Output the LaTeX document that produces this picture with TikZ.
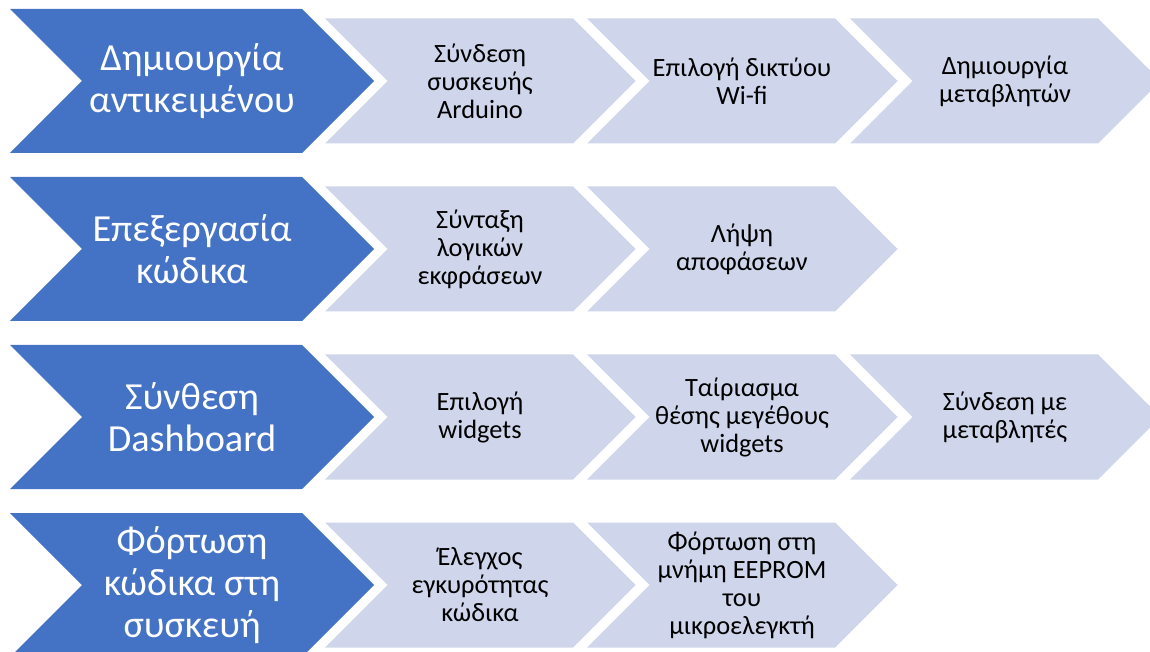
\documentclass[tikz,border=0pt]{standalone}
\usepackage{fontspec}
\setmainfont{Carlito}

\definecolor{chevblue}{RGB}{68,114,196}
\definecolor{chevlight}{RGB}{207,213,234}

\tikzset{
    bluechev/.style = {fill=chevblue},
    lightchev/.style = {fill=chevlight},
    bluelabel/.style = {text=white, align=center, inner sep=0pt,
        font=\fontsize{28.7}{31.5}\selectfont},
    lightlabel/.style = {text=black, align=center, inner sep=0pt,
        font=\fontsize{19.8}{21}\selectfont}
}

\begin{document}
\begin{tikzpicture}[x=0.75pt, y=-0.75pt]

    \useasboundingbox (0, 0) rectangle (1150, 652);
    \clip (0, 0) rectangle (1150, 652);

    % dark chevrons, one per row
    \foreach \cy in {81, 249, 417, 585}
        \fill[bluechev]
            (10, \cy-72) -- (302, \cy-72) -- (374, \cy)
            -- (302, \cy+72) -- (10, \cy+72) -- (82, \cy) -- cycle;

    % light chevrons (left x / row y)
    \foreach \cx/\cy in {325/81, 587/81, 850/81,
                         325/249, 587/249,
                         325/417, 587/417, 850/417,
                         325/585, 587/585}
        \fill[lightchev]
            (\cx, \cy-62.5) -- (\cx+248, \cy-62.5) -- (\cx+310.5, \cy)
            -- (\cx+248, \cy+62.5) -- (\cx, \cy+62.5) -- (\cx+62.5, \cy) -- cycle;

    % row 1
    \node[bluelabel] (create) at (192, 81) {Δημιουργία\\αντικειμένου};
    \node[lightlabel] (link) at (480, 81) {Σύνδεση\\συσκευής\\Arduino};
    \node[lightlabel] (wifi) at (742, 81) {Επιλογή δικτύου\\Wi-fi};
    \node[lightlabel] (vars) at (1005, 81) {Δημιουργία\\μεταβλητών};

    % row 2
    \node[bluelabel] (edit) at (192, 249) {Επεξεργασία\\κώδικα};
    \node[lightlabel] (logic) at (480, 249) {Σύνταξη\\λογικών\\εκφράσεων};
    \node[lightlabel] (decide) at (742, 249) {Λήψη\\αποφάσεων};

    % row 3
    \node[bluelabel] (compose) at (192, 417) {Σύνθεση\\Dashboard};
    \node[lightlabel] (widgets) at (480, 417) {Επιλογή\\widgets};
    \node[lightlabel] (fit) at (742, 417) {Ταίριασμα\\θέσης μεγέθους\\widgets};
    \node[lightlabel] (bind) at (1005, 417) {Σύνδεση με\\μεταβλητές};

    % row 4
    \node[bluelabel] (upload) at (192, 585) {Φόρτωση\\κώδικα στη\\συσκευή};
    \node[lightlabel] (check) at (480, 585) {Έλεγχος\\εγκυρότητας\\κώδικα};
    \node[lightlabel] (eeprom) at (742, 585) {Φόρτωση στη\\μνήμη EEPROM\\του\\μικροελεγκτή};

\end{tikzpicture}
\end{document}
